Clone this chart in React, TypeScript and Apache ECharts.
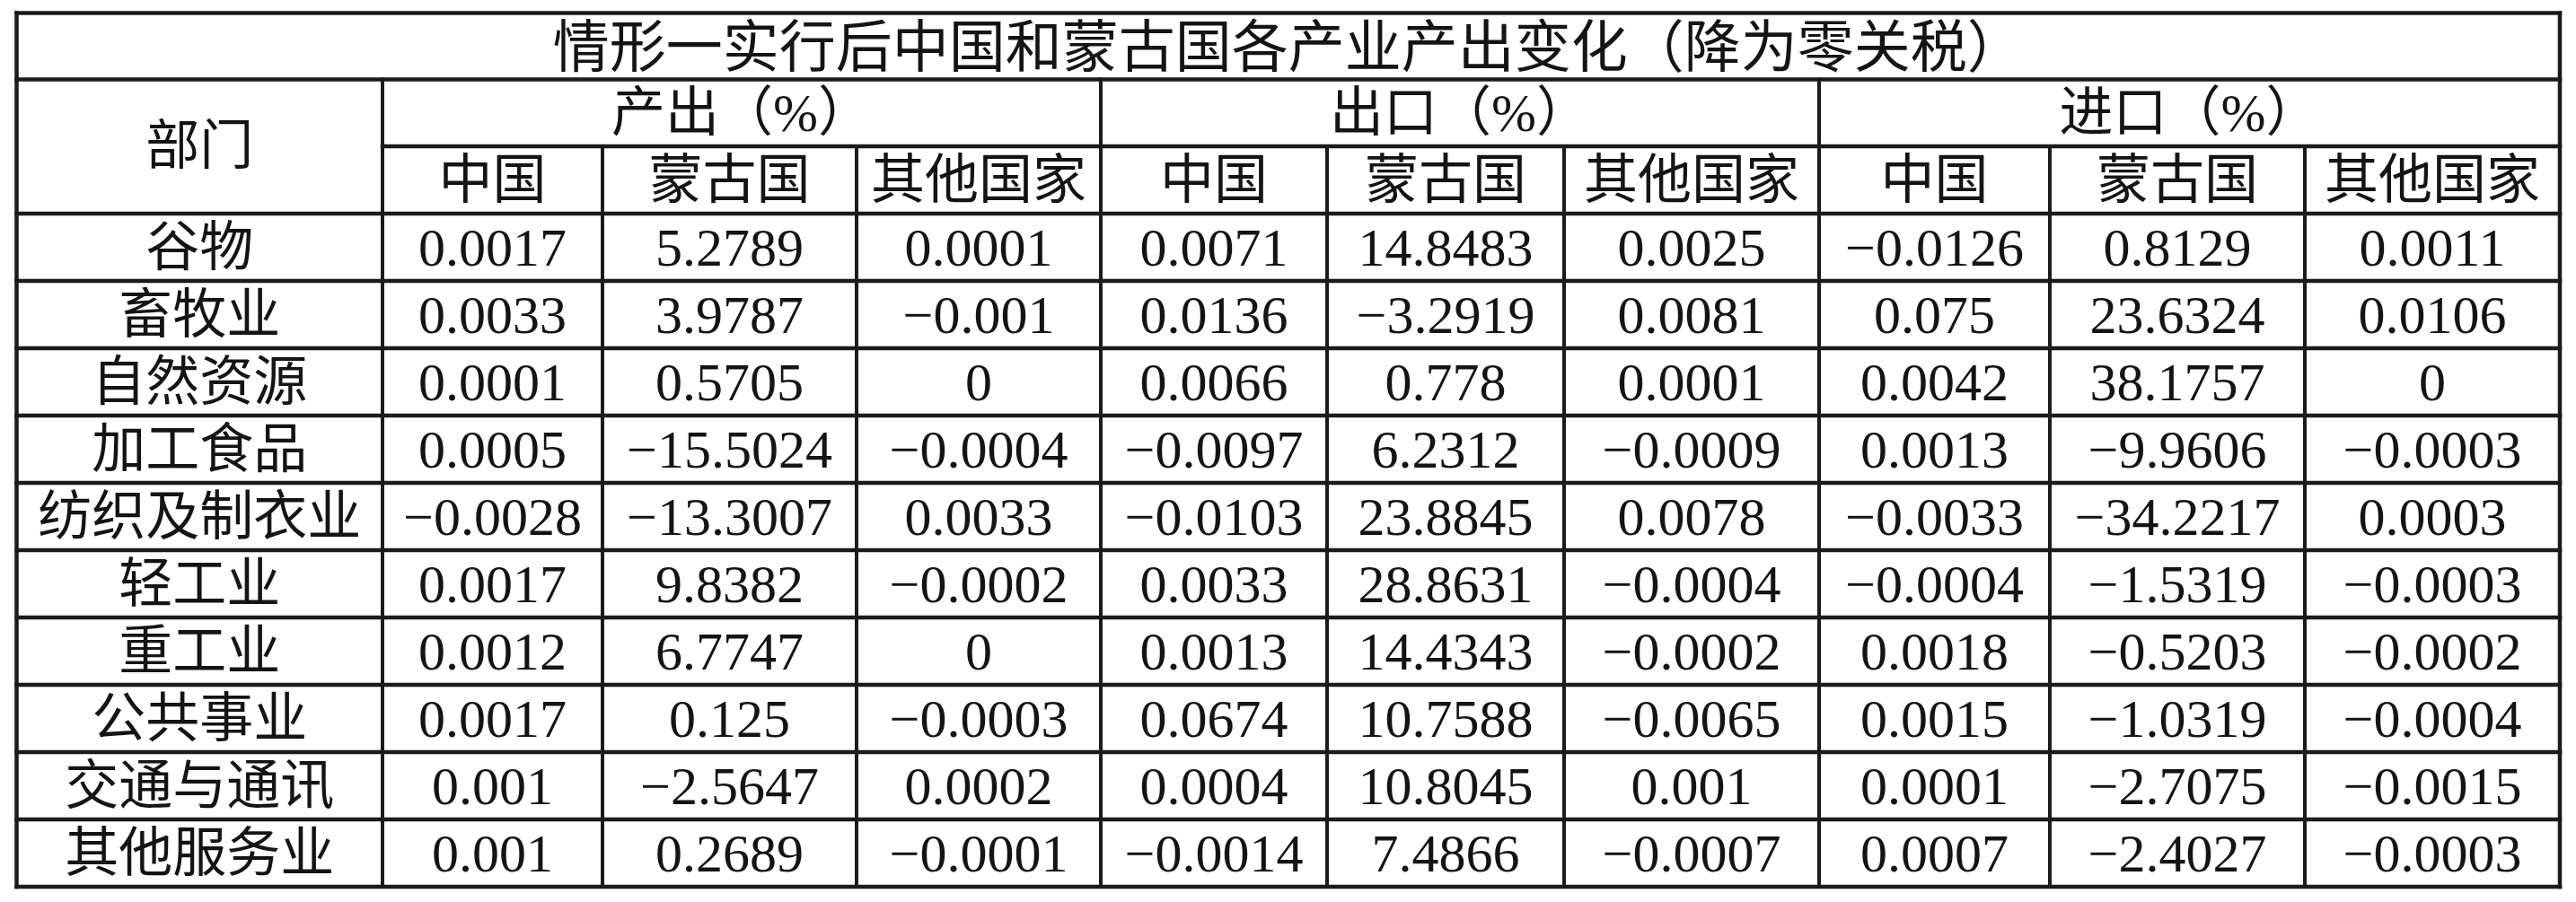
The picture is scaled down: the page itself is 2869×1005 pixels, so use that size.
import React, { useEffect, useRef } from "react";
import * as echarts from "echarts";

// ---------- data ----------
const titleText = "情形一实行后中国和蒙古国各产业产出变化（降为零关税）";
const cornerHeader = "部门";
const groupHeaders = ["产出（%）", "出口（%）", "进口（%）"];
const subHeaders = ["中国", "蒙古国", "其他国家"];
const sectors = [
  "谷物",
  "畜牧业",
  "自然资源",
  "加工食品",
  "纺织及制衣业",
  "轻工业",
  "重工业",
  "公共事业",
  "交通与通讯",
  "其他服务业",
];
const outputChina = [0.0017, 0.0033, 0.0001, 0.0005, -0.0028, 0.0017, 0.0012, 0.0017, 0.001, 0.001];
const outputMongolia = [5.2789, 3.9787, 0.5705, -15.5024, -13.3007, 9.8382, 6.7747, 0.125, -2.5647, 0.2689];
const outputOther = [0.0001, -0.001, 0, -0.0004, 0.0033, -0.0002, 0, -0.0003, 0.0002, -0.0001];
const exportChina = [0.0071, 0.0136, 0.0066, -0.0097, -0.0103, 0.0033, 0.0013, 0.0674, 0.0004, -0.0014];
const exportMongolia = [14.8483, -3.2919, 0.778, 6.2312, 23.8845, 28.8631, 14.4343, 10.7588, 10.8045, 7.4866];
const exportOther = [0.0025, 0.0081, 0.0001, -0.0009, 0.0078, -0.0004, -0.0002, -0.0065, 0.001, -0.0007];
const importChina = [-0.0126, 0.075, 0.0042, 0.0013, -0.0033, -0.0004, 0.0018, 0.0015, 0.0001, 0.0007];
const importMongolia = [0.8129, 23.6324, 38.1757, -9.9606, -34.2217, -1.5319, -0.5203, -1.0319, -2.7075, -2.4027];
const importOther = [0.0011, 0.0106, 0, -0.0003, 0.0003, -0.0003, -0.0002, -0.0004, -0.0015, -0.0003];

const valueColumns = [
  outputChina,
  outputMongolia,
  outputOther,
  exportChina,
  exportMongolia,
  exportOther,
  importChina,
  importMongolia,
  importOther,
];

// ---------- layout ----------
const W = 2869;
const H = 1005;
const colEdges = [18.5, 426, 671, 954, 1226, 1478, 1742, 2026, 2283, 2567, 2851];
const rowEdges = [14.5, 88.5, 163, 238, 313, 388, 463, 538, 613, 688, 763, 838, 913, 988];
const LINE = "#1b1b1b";
const INK = "#141414";
const FONT = "'Liberation Serif', 'Noto Sans CJK SC', 'Noto Sans CJK JP', serif";

const fmt = (v: number) => String(v).replace("-", "\u2212");

type Cell = { x0: number; x1: number; y0: number; y1: number; text: string; size: number; dy: number };

function buildCells(): Cell[] {
  const cells: Cell[] = [];
  const last = colEdges.length - 1;
  cells.push({ x0: colEdges[0], x1: colEdges[last], y0: rowEdges[0], y1: rowEdges[1], text: titleText, size: 63, dy: 1 });
  cells.push({ x0: colEdges[0], x1: colEdges[1], y0: rowEdges[1], y1: rowEdges[3], text: cornerHeader, size: 60, dy: 0 });
  groupHeaders.forEach((g, gi) => {
    cells.push({
      x0: colEdges[1 + gi * 3],
      x1: colEdges[4 + gi * 3],
      y0: rowEdges[1],
      y1: rowEdges[2],
      text: g,
      size: 60,
      dy: 0,
    });
    subHeaders.forEach((s, si) => {
      const c = 1 + gi * 3 + si;
      cells.push({ x0: colEdges[c], x1: colEdges[c + 1], y0: rowEdges[2], y1: rowEdges[3], text: s, size: 60, dy: 0 });
    });
  });
  sectors.forEach((name, r) => {
    const y0 = rowEdges[3 + r];
    const y1 = rowEdges[4 + r];
    cells.push({ x0: colEdges[0], x1: colEdges[1], y0, y1, text: name, size: 60, dy: 0 });
    valueColumns.forEach((col, ci) => {
      cells.push({ x0: colEdges[ci + 1], x1: colEdges[ci + 2], y0, y1, text: fmt(col[r]), size: 60, dy: 0 });
    });
  });
  return cells;
}

function buildLines() {
  const L = colEdges[0];
  const R = colEdges[colEdges.length - 1];
  const T = rowEdges[0];
  const B = rowEdges[rowEdges.length - 1];
  const segs: [number, number, number, number, number][] = [];
  // horizontal
  segs.push([L, T, R, T, 4.5]);
  segs.push([L, rowEdges[1], R, rowEdges[1], 4.5]);
  segs.push([colEdges[1], rowEdges[2], R, rowEdges[2], 4.5]);
  for (let i = 3; i < rowEdges.length; i++) segs.push([L, rowEdges[i], R, rowEdges[i], 4.5]);
  // vertical
  segs.push([L, T, L, B, 4.5]);
  segs.push([R, T, R, B, 4.5]);
  [1, 4, 7].forEach((c) => segs.push([colEdges[c], rowEdges[1], colEdges[c], B, 4]));
  [2, 3, 5, 6, 8, 9].forEach((c) => segs.push([colEdges[c], rowEdges[2], colEdges[c], B, 4]));
  return segs;
}

export default function App() {
  const ref = useRef<HTMLDivElement>(null);
  useEffect(() => {
    if (!ref.current) return;
    const chart = echarts.init(ref.current, null, { renderer: "svg" });
    const cells = buildCells();
    const lines = buildLines();
    chart.setOption({
      animation: false,
      backgroundColor: "#ffffff",
      grid: { left: 0, right: 0, top: 0, bottom: 0, containLabel: false },
      xAxis: { type: "value", min: 0, max: W, show: false },
      yAxis: { type: "value", min: 0, max: H, inverse: true, show: false },
      series: [
        {
          type: "custom",
          silent: true,
          clip: false,
          data: lines.map((s) => s),
          renderItem: (params: any, api: any) => {
            const s = lines[params.dataIndex];
            const p1 = api.coord([s[0], s[1]]);
            const p2 = api.coord([s[2], s[3]]);
            const horiz = s[1] === s[3];
            const ext = s[4] / 2;
            return {
              type: "line",
              shape: horiz
                ? { x1: p1[0] - ext, y1: p1[1], x2: p2[0] + ext, y2: p2[1] }
                : { x1: p1[0], y1: p1[1] - ext, x2: p2[0], y2: p2[1] + ext },
              style: { stroke: LINE, lineWidth: s[4] },
            };
          },
        },
        {
          type: "custom",
          silent: true,
          clip: false,
          data: cells.map((c) => [(c.x0 + c.x1) / 2, (c.y0 + c.y1) / 2 + c.dy]),
          renderItem: (params: any, api: any) => {
            const c = cells[params.dataIndex];
            const p = api.coord([api.value(0), api.value(1)]);
            return {
              type: "text",
              x: p[0],
              y: p[1],
              style: {
                text: c.text,
                fill: INK,
                fontSize: c.size,
                fontFamily: FONT,
                fontWeight: "normal",
                align: "center",
                verticalAlign: "middle",
              },
            };
          },
        },
      ],
    });
    return () => chart.dispose();
  }, []);
  return (
    <div
      ref={ref}
      style={{ position: "absolute", left: 0, top: 0, width: W, height: H, background: "#fff" }}
    />
  );
}
